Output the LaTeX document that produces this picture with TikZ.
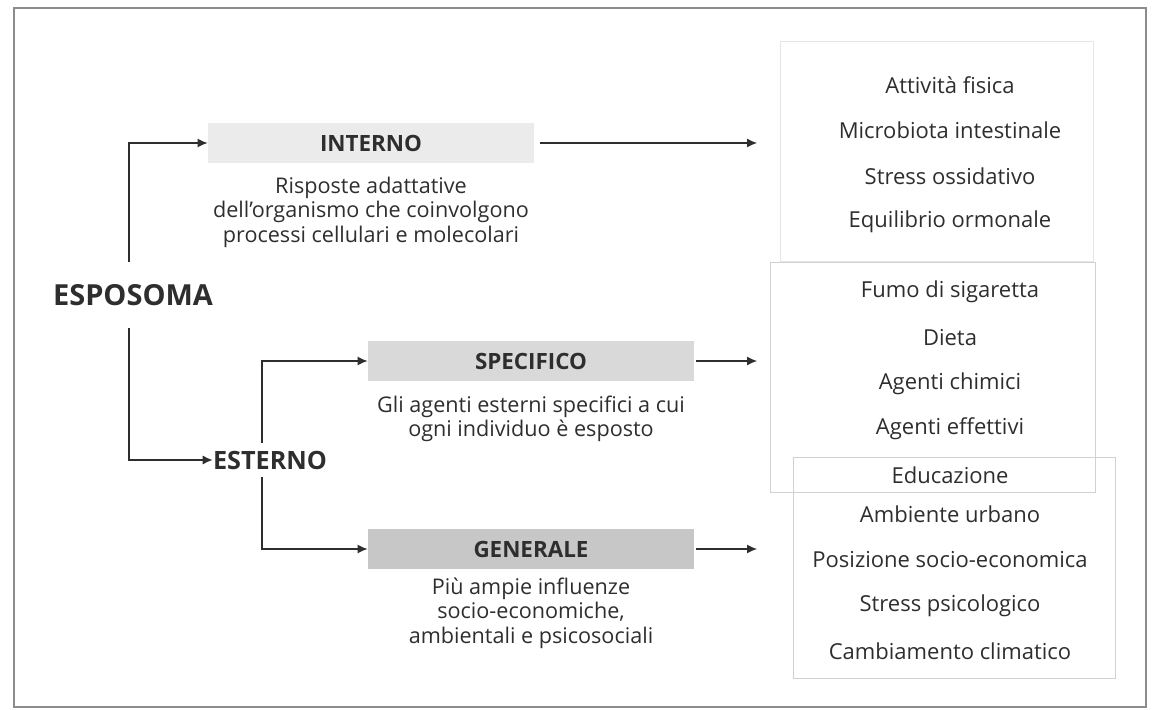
\documentclass[tikz,border=0pt]{standalone}
\usepackage{fontspec}
\setmainfont{Open Sans}
\usetikzlibrary{arrows.meta}
\definecolor{frameline}{gray}{0.55}
\definecolor{boxline}{gray}{0.82}
\definecolor{faintline}{gray}{0.90}
\definecolor{intfill}{gray}{0.92}
\definecolor{specfill}{gray}{0.85}
\definecolor{genfill}{gray}{0.78}
\definecolor{ink}{gray}{0.18}

\tikzset{
  conn/.style={draw=ink, line width=0.6pt, -{Latex[length=5pt,width=4.5pt]}},
  level/.style={font=\bfseries\fontsize{11.2}{13}\selectfont, text=ink,
    minimum width=163pt, minimum height=20pt, inner sep=0pt},
  note/.style={align=center, font=\fontsize{10.8}{12.25}\selectfont, text=ink},
  item/.style={font=\fontsize{11}{13}\selectfont, text=ink},
  listbox/.style={draw=boxline, line width=0.5pt, inner sep=0pt},
}

\begin{document}
\begin{tikzpicture}[x=0.5pt, y=-0.5pt]
  \useasboundingbox (0,0) rectangle (1154,710);
  \draw[frameline, line width=1pt] (14,8) rectangle (1146,707);

  % --- Left: esposoma and its two branches ---
  \node[font=\bfseries\fontsize{14.5}{17}\selectfont, text=ink,
    minimum height=33pt, inner sep=0pt] (esp) at (133,295) {ESPOSOMA};
  \node[font=\bfseries\fontsize{12.6}{14}\selectfont, text=ink,
    minimum height=17pt, inner sep=0pt] (est) at (270,460) {ESTERNO};

  % --- Middle: level boxes ---
  \node[level, fill=intfill] (int) at (371,143) {INTERNO};
  \node[note] (intnote) at (371,212) {Risposte adattative\\dell’organismo che coinvolgono\\processi cellulari e molecolari};

  \node[level, fill=specfill] (spec) at (531,361) {SPECIFICO};
  \node[note] (specnote) at (531,419) {Gli agenti esterni specifici a cui\\ogni individuo è esposto};

  \node[level, fill=genfill] (gen) at (531,549) {GENERALE};
  \node[note] (gennote) at (531,613) {Più ampie influenze\\socio-economiche,\\ambientali e psicosociali};

  % --- Right: lists of factors ---
  \node[listbox, draw=faintline, minimum width=156.5pt, minimum height=110pt] (lista) at (936.5,152) {};
  \node[listbox, minimum width=162.5pt, minimum height=114.5pt] (listb) at (932.5,377.5) {};
  \node[listbox, minimum width=161pt, minimum height=110.5pt] (listc) at (954,567.5) {};

  \foreach \t [count=\i from 0] in {Attività fisica, Microbiota intestinale,
      Stress ossidativo, Equilibrio ormonale}
    \node[item] (a\i) at (950,{85+45.7*\i}) {\t};
  \foreach \t [count=\i from 0] in {Fumo di sigaretta, Dieta, Agenti chimici,
      Agenti effettivi, Educazione}
    \node[item] (b\i) at (950,{292+45.7*\i}) {\t};
  \foreach \t [count=\i from 0] in {Ambiente urbano, Posizione socio-economica,
      Stress psicologico, Cambiamento climatico}
    \node[item] (c\i) at (950,{514+45.7*\i}) {\t};

  % --- Connectors ---
  \coordinate (tip) at (757,0);
  \draw[conn] ([xshift=-2pt]esp.north) |- (int.west);
  \draw[conn] ([xshift=-2pt]esp.south) |- (est.west);
  \draw[conn] ([xshift=-4pt]est.north) |- (spec.west);
  \draw[conn] ([xshift=-4pt]est.south) |- (gen.west);
  \draw[conn, shorten <=3pt] (int.east) -- (int.east -| tip);
  \draw[conn, shorten <=1pt] (spec.east) -- (spec.east -| tip);
  \draw[conn, shorten <=1pt] (gen.east) -- (gen.east -| tip);
\end{tikzpicture}
\end{document}
